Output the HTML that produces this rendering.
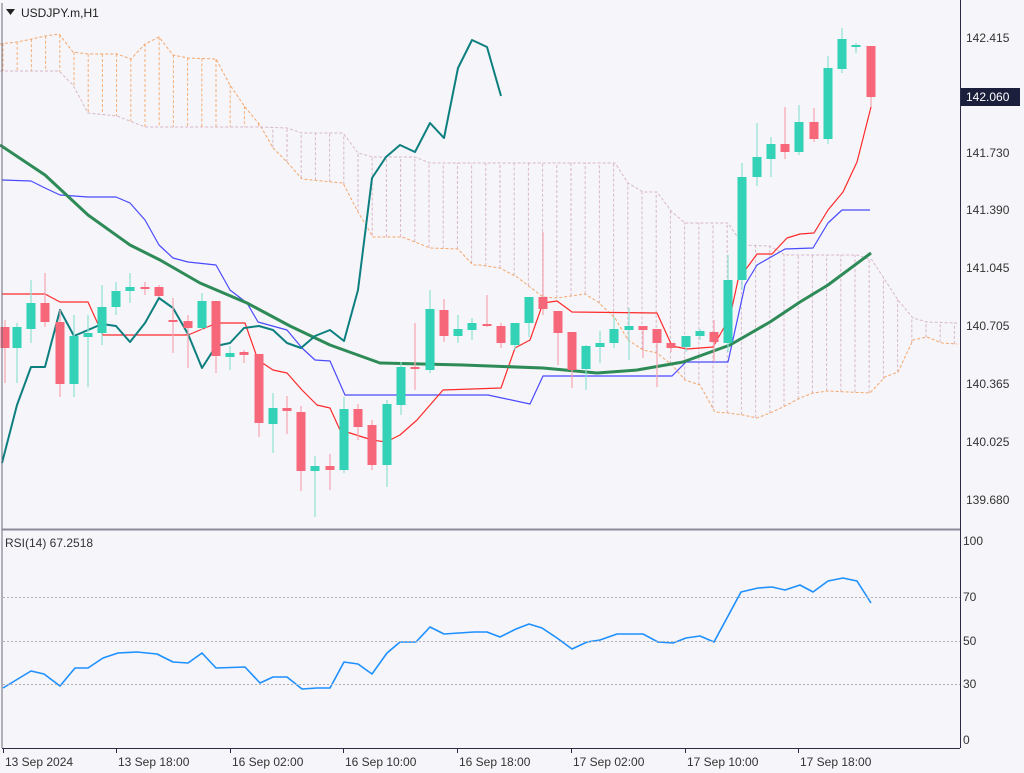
<!DOCTYPE html>
<html><head><meta charset="utf-8"><style>
html,body{margin:0;padding:0;background:#f5f5fa;}
svg{display:block;font-family:"Liberation Sans",sans-serif;}
</style></head><body>
<svg id="s" width="1024" height="773" xmlns="http://www.w3.org/2000/svg">
<rect width="1024" height="773" fill="#f5f5fa"/>
<g id="cloud"></g><g id="lines"></g><g id="candles"></g><g id="top"></g>
<line x1="2" y1="3" x2="2" y2="748" stroke="#6a6a7a" stroke-width="1"/>
<line x1="960.5" y1="0" x2="960.5" y2="748" stroke="#2a2a44" stroke-width="1"/>
<line x1="2" y1="529.5" x2="960" y2="529.5" stroke="#8a8a99" stroke-width="2"/>
<line x1="2" y1="748.5" x2="960" y2="748.5" stroke="#2a2a44" stroke-width="1"/>
<polygon points="6,9 15,9 10.5,15" fill="#222"/>
<text x="21" y="17" font-size="12" fill="#222">USDJPY.m,H1</text>
<text x="5" y="547" font-size="12" fill="#333">RSI(14) 67.2518</text>
<g font-size="12" fill="#333">
<text x="966" y="42">142.415</text>
<text x="966" y="157">141.730</text>
<text x="966" y="214">141.390</text>
<text x="966" y="272">141.045</text>
<text x="966" y="330">140.705</text>
<text x="966" y="388">140.365</text>
<text x="966" y="446">140.025</text>
<text x="966" y="504">139.680</text>
<text x="963" y="545">100</text>
<text x="963" y="601">70</text>
<text x="963" y="645">50</text>
<text x="963" y="688">30</text>
<text x="963" y="744">0</text>
</g>
<rect x="961" y="88" width="59" height="18" fill="#1b1f3b"/>
<text x="966" y="101" font-size="12" fill="#fff">142.060</text>
<g stroke="#b0b0b8" stroke-dasharray="2,2" stroke-width="1">
<line x1="3" y1="597.5" x2="960" y2="597.5"/>
<line x1="3" y1="641.5" x2="960" y2="641.5"/>
<line x1="3" y1="684.5" x2="960" y2="684.5"/>
</g>
<g id="xax" font-size="12" fill="#333"></g>
</svg>
<script>
var NS="http://www.w3.org/2000/svg";
function el(p,t,a){var e=document.createElementNS(NS,t);for(var k in a)e.setAttribute(k,a[k]);p.appendChild(e);return e;}
function pl(p,pts,c,w,extra){var a={points:pts.map(function(q){return q.join(",")}).join(" "),fill:"none",stroke:c,"stroke-width":w,"stroke-linejoin":"round"};if(extra)for(var k in extra)a[k]=extra[k];return el(p,"polyline",a);}
function interp(pts,x){if(x<=pts[0][0])return pts[0][1];for(var i=1;i<pts.length;i++){if(x<=pts[i][0]){var a=pts[i-1],b=pts[i];return a[1]+(b[1]-a[1])*(x-a[0])/(b[0]-a[0]);}}return pts[pts.length-1][1];}
var A=[[0,44],[17,42],[32,39],[45,36],[59,34],[73,52],[88,54],[117,54],[131,59],[145,44],[159,37],[173,55],[188,58],[216,59],[230,85],[245,107],[260,125],[273,148],[287,162],[302,179],[343,183],[358,212],[373,237],[402,237],[415,242],[430,248],[458,249],[473,265],[480,265],[500,268],[517,277],[543,297],[557,298],[585,294],[598,302],[615,318],[628,340],[643,350],[657,353],[672,365],[685,380],[700,385],[715,412],[728,413],[743,415],[757,418],[770,413],[785,406],[800,398],[813,393],[828,391],[870,393],[885,377],[898,372],[913,340],[927,337],[942,343],[957,344]];
var B=[[0,71],[59,71],[73,85],[88,113],[117,116],[145,127],[260,127],[287,128],[302,133],[343,133],[358,153],[373,157],[415,157],[430,163],[480,163],[615,163],[628,183],[643,192],[657,192],[672,212],[685,223],[728,223],[743,245],[770,246],[785,255],[857,255],[872,260],[885,280],[898,300],[913,318],[927,322],[957,323]];
var cl=document.getElementById("cloud");
for(var i=0;i<68;i++){var x=3+14.2*i;if(x>957)break;var ya=interp(A,x),yb=interp(B,x);var c=ya<yb?"#f5b07a":"#d9b8c8";el(cl,"line",{x1:x,y1:ya,x2:x,y2:yb,stroke:c,"stroke-width":1,"stroke-dasharray":"3,2"});}
pl(cl,A,"#f5a66a",1,{"stroke-dasharray":"3,2"});
pl(cl,B,"#d9b8c8",1,{"stroke-dasharray":"3,2"});
var ln=document.getElementById("lines");
pl(ln,[[2,180],[31,181],[45,188],[60,195],[88,197],[116,197],[130,203],[145,220],[159,245],[173,258],[188,262],[216,265],[230,290],[247,303],[258,322],[287,330],[302,348],[315,360],[330,361],[345,395],[488,395],[530,404],[543,376],[672,376],[686,362],[728,362],[745,285],[757,265],[785,249],[813,248],[828,223],[842,210],[870,210]],"#4a4aff",1.2);
pl(ln,[[2,294],[45,294],[60,302],[88,302],[103,335],[188,335],[217,323],[245,323],[258,360],[273,370],[287,373],[302,390],[317,405],[330,408],[340,430],[350,433],[372,440],[386,442],[400,435],[417,420],[443,390],[501,388],[515,348],[530,340],[543,303],[557,301],[572,312],[657,313],[672,346],[687,349],[713,347],[730,317],[738,280],[757,254],[772,254],[787,238],[800,234],[814,233],[828,210],[843,192],[857,162],[871,107]],"#ff2a2a",1.2);
pl(ln,[[0,145],[45,175],[88,215],[130,245],[160,260],[200,283],[247,303],[290,326],[330,345],[380,363],[463,365],[543,368],[597,373],[637,370],[683,362],[730,345],[770,322],[800,302],[828,285],[871,253]],"#2e8b57",3);
pl(ln,[[2,463],[17,405],[31,367],[45,367],[60,310],[74,336],[88,330],[102,324],[116,326],[130,342],[145,323],[159,298],[173,308],[188,334],[202,368],[216,346],[230,343],[244,328],[259,326],[273,330],[287,343],[301,348],[315,336],[330,330],[344,341],[358,290],[372,178],[386,157],[400,145],[415,152],[430,123],[444,138],[458,68],[472,40],[487,47],[501,96]],"#0e7f7f",2);
pl(ln,[[3,688],[31,671],[44,674],[60,686],[75,668],[88,668],[103,658],[118,653],[137,652],[157,654],[173,662],[188,663],[202,653],[216,668],[245,667],[260,683],[273,677],[287,677],[302,689],[317,688],[330,688],[344,662],[358,664],[372,674],[387,653],[400,642],[416,642],[430,627],[444,634],[459,633],[474,632],[487,632],[500,637],[516,629],[529,624],[542,628],[557,638],[572,649],[587,642],[600,640],[617,634],[643,634],[658,642],[673,643],[686,638],[700,636],[714,642],[741,592],[758,588],[772,587],[785,590],[800,585],[813,592],[828,581],[843,578],[857,581],[871,603]],"#1e90ff",1.6);
// candles: x, bodyTop, bodyBottom, wickTop, wickBottom, bull
var C=[[5,327,348,320,383,0],[17,327,348,323,383,1],[31,303,329,280,343,1],[45,303,322,273,327,0],[60,322,384,310,397,0],[74,336,384,315,397,1],[88,333,337,315,387,1],[102,307,333,285,345,1],[116,291,307,282,315,1],[130,287,291,273,303,1],[145,287,289,282,295,0],[159,287,296,285,297,0],[173,320,322,298,353,0],[188,321,328,315,368,0],[202,301,328,293,330,1],[216,301,356,301,373,0],[230,353,357,346,370,1],[244,352,355,350,363,0],[259,354,423,354,437,0],[273,408,424,393,453,1],[287,408,411,396,434,0],[301,412,471,406,491,0],[315,466,471,456,517,1],[330,466,470,454,490,0],[344,409,470,397,473,1],[358,409,427,404,440,0],[372,425,465,420,470,0],[387,404,465,400,487,1],[401,367,405,362,415,1],[415,367,369,323,390,0],[430,309,370,290,373,1],[444,310,336,299,342,0],[458,329,336,315,343,1],[472,323,330,318,340,1],[487,324,326,295,327,0],[501,326,343,323,348,0],[515,323,345,323,350,1],[529,297,323,297,337,1],[543,297,309,232,315,0],[558,311,333,311,365,0],[572,332,370,332,388,0],[586,346,369,345,390,1],[600,343,347,331,363,1],[614,329,343,317,348,1],[629,326,330,308,360,1],[643,326,330,326,358,0],[657,329,343,329,387,0],[671,343,348,343,352,0],[686,336,347,336,352,1],[700,331,336,329,340,1],[714,332,342,320,362,0],[728,280,343,255,352,1],[742,177,280,163,290,1],[757,157,177,123,186,1],[771,144,159,137,177,1],[785,144,152,107,159,0],[799,122,152,105,155,1],[814,122,139,108,142,0],[828,68,139,56,144,1],[842,39,69,28,73,1],[856,45,47,43,53,1],[871,46,97,46,107,0]];
var cg=document.getElementById("candles");
C.forEach(function(c){var col=c[5]?"#33d1b6":"#f7677a";var wc=c[5]?"#8fe3d3":"#f7a5b0";
el(cg,"line",{x1:c[0],y1:c[3],x2:c[0],y2:c[4],stroke:wc,"stroke-width":1.2});
var h=Math.max(2,c[2]-c[1]);el(cg,"rect",{x:c[0]-4.5,y:c[1],width:9,height:h,fill:col});});
var xa=document.getElementById("xax");
[["13 Sep 2024",3],["13 Sep 18:00",116],["16 Sep 02:00",230],["16 Sep 10:00",343],["16 Sep 18:00",457],["17 Sep 02:00",571],["17 Sep 10:00",685],["17 Sep 18:00",798]].forEach(function(l){
el(xa,"line",{x1:l[1]+0.5,y1:748,x2:l[1]+0.5,y2:753,stroke:"#2a2a44","stroke-width":1});
var t=el(xa,"text",{x:l[1]+2,y:766});t.textContent=l[0];});
</script>
</body></html>
